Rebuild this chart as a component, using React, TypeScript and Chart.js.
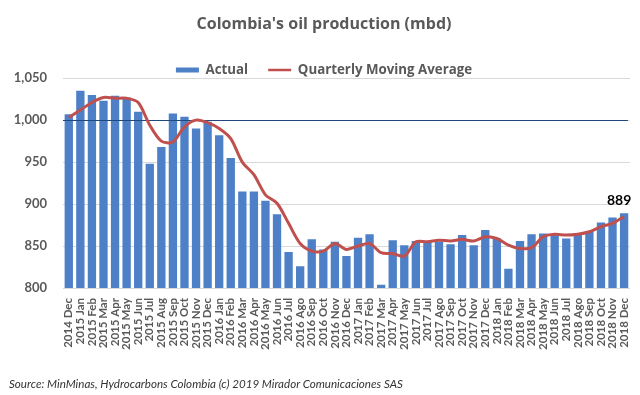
import React, { useEffect, useRef } from 'react';
import { Chart, registerables } from 'chart.js';

Chart.register(...registerables);

const months = [
  '2014 Dec',
  '2015 Jan', '2015 Feb', '2015 Mar', '2015 Apr', '2015 May', '2015 Jun', '2015 Jul', '2015 Aug', '2015 Sep', '2015 Oct', '2015 Nov', '2015 Dec',
  '2016 Jan', '2016 Feb', '2016 Mar', '2016 Apr', '2016 May', '2016 Jun', '2016 Jul', '2016 Ago', '2016 Sep', '2016 Oct', '2016 Nov', '2016 Dec',
  '2017 Jan', '2017 Feb', '2017 Mar', '2017 Apr', '2017 May', '2017 Jun', '2017 Jul', '2017 Ago', '2017 Sep', '2017 Oct', '2017 Nov', '2017 Dec',
  '2018 Jan', '2018 Feb', '2018 Mar', '2018 Apr', '2018 May', '2018 Jun', '2018 Jul', '2018 Ago', '2018 Sep', '2018 Oct', '2018 Nov', '2018 Dec',
];

const actual = [
  1007,
  1035, 1030, 1023, 1029, 1027, 1010, 948, 968, 1008, 1004, 990, 998,
  982, 955, 915, 915, 904, 888, 843, 826, 858, 846, 855, 838,
  860, 864, 804, 857, 851, 856, 855, 855, 852, 863, 851, 869,
  859, 823, 856, 864, 865, 864, 859, 865, 867, 878, 884, 889,
];

const movingAverage = [
  1003,
  1012, 1021, 1027, 1026, 1026, 1021, 994, 975, 974, 992, 1000, 997,
  990, 978, 950, 935, 911, 901, 877, 853, 844, 844, 853, 846,
  850, 853, 842, 841, 838, 855, 855, 857, 856, 858, 856, 861,
  859, 851, 847, 848, 861, 864, 863, 864, 867, 873, 877, 885,
];

const yMin = 800;
const yMax = 1050;
const yStep = 50;
const referenceLevel = 1000;

const titleText = "Colombia's oil production (mbd)";
const sourceText = 'Source: MinMinas, Hydrocarbons Colombia (c) 2019 Mirador Comunicaciones SAS';

const FONT = 'Lato, "Open Sans", sans-serif';
const WIDE_FONT = '"Open Sans", Lato, sans-serif';
const BAR_COLOR = '#4E80C8';
const LINE_COLOR = '#C0504D';
const TEXT_COLOR = '#595959';

const LEGEND_PAD = 20;
const LEGEND_FONT = 13.3;

const layoutTweaksPlugin = {
  id: 'layoutTweaks',
  beforeLayout(chart: any) {
    const lg = chart.legend;
    if (lg && !lg.__patched) {
      const orig = lg.fit.bind(lg);
      lg.fit = function () {
        orig();
        if (this.height > 0) this.height = LEGEND_PAD + LEGEND_FONT + 1.5;
      };
      lg.__patched = true;
    }
  },
  afterLayout(chart: any) {
    const y = chart.scales.y;
    if (y) y.left = 0;
  },
};

const referenceLinePlugin = {
  id: 'referenceLine',
  afterDatasetDraw(chart: any, args: any) {
    if (args.index !== 1) return;
    const { ctx, chartArea } = chart;
    const y = Math.round(chart.scales.y.getPixelForValue(referenceLevel)) + 0.5;
    ctx.save();
    ctx.strokeStyle = '#1F497D';
    ctx.lineWidth = 1.2;
    ctx.beginPath();
    ctx.moveTo(chartArea.left, y);
    ctx.lineTo(chartArea.right - 2, y);
    ctx.stroke();
    ctx.restore();
  },
};

const lastValueLabelPlugin = {
  id: 'lastValueLabel',
  afterDatasetsDraw(chart: any) {
    const meta = chart.getDatasetMeta(1);
    const last = meta.data.length - 1;
    const el = meta.data[last];
    if (!el) return;
    const value = chart.data.datasets[1].data[last];
    const { ctx } = chart;
    ctx.save();
    ctx.font = `bold 14px ${FONT}`;
    ctx.fillStyle = '#000000';
    ctx.textAlign = 'center';
    ctx.textBaseline = 'alphabetic';
    ctx.fillText(String(value), el.x - 5, el.y - 8);
    ctx.restore();
  },
};

export default function App() {
  const canvasRef = useRef<HTMLCanvasElement | null>(null);

  useEffect(() => {
    document.body.style.margin = '0';
    const canvas = canvasRef.current;
    if (!canvas) return;
    const chart = new Chart(canvas, {
      type: 'bar',
      data: {
        labels: months,
        datasets: [
          {
            type: 'line',
            label: 'Quarterly Moving Average',
            data: movingAverage,
            borderColor: LINE_COLOR,
            backgroundColor: LINE_COLOR,
            borderWidth: 3,
            pointRadius: 0,
            tension: 0.3,
            order: 0,
          } as any,
          {
            type: 'bar',
            label: 'Actual',
            data: actual,
            backgroundColor: BAR_COLOR,
            borderWidth: 0,
            categoryPercentage: 1,
            barPercentage: 0.72,
            order: 1,
          },
        ],
      },
      options: {
        responsive: false,
        animation: false,
        layout: { padding: { left: 18, right: 10, top: 0, bottom: 27 } },
        plugins: {
          tooltip: { enabled: false },
          title: {
            display: true,
            text: titleText,
            color: TEXT_COLOR,
            font: { family: WIDE_FONT, size: 16, weight: 'bold', lineHeight: 1.2 },
            padding: { top: 15, bottom: 9.15 },
          },
          legend: {
            display: true,
            position: 'top',
            labels: {
              color: TEXT_COLOR,
              font: { family: WIDE_FONT, size: LEGEND_FONT, weight: 'bold', lineHeight: 1 },
              usePointStyle: true,
              pointStyleWidth: 23,
              boxHeight: 5,
              padding: LEGEND_PAD,
              sort: (a: any, b: any) => b.datasetIndex - a.datasetIndex,
              generateLabels: (chart: any) => {
                const items = Chart.defaults.plugins.legend.labels.generateLabels(chart);
                items.forEach((it: any) => {
                  if (it.datasetIndex === 1) {
                    it.pointStyle = 'rect';
                    it.fillStyle = BAR_COLOR;
                    it.strokeStyle = BAR_COLOR;
                    it.lineWidth = 0;
                  } else {
                    it.pointStyle = 'line';
                    it.fillStyle = LINE_COLOR;
                    it.strokeStyle = LINE_COLOR;
                    it.lineWidth = 2.5;
                  }
                });
                return items;
              },
            },
          },
        },
        scales: {
          x: {
            grid: { display: false },
            border: { display: false },
            ticks: {
              autoSkip: false,
              minRotation: 90,
              maxRotation: 90,
              padding: 2,
              color: TEXT_COLOR,
              font: { family: FONT, size: 11.5, weight: 'bold' },
            },
            afterFit: (scale: any) => {
              scale.height = 80;
            },
          },
          y: {
            min: yMin,
            max: yMax,
            border: { display: false },
            grid: { color: '#D9D9D9', drawTicks: false, lineWidth: 1 },
            ticks: {
              stepSize: yStep,
              padding: 16,
              color: TEXT_COLOR,
              font: { family: FONT, size: 13, weight: 'bold' },
              callback: (v: any) => Number(v).toLocaleString('en-US'),
            },
            afterFit: (scale: any) => {
              scale.width = 45;
            },
          },
        },
      },
      plugins: [layoutTweaksPlugin, referenceLinePlugin, lastValueLabelPlugin],
    });
    return () => chart.destroy();
  }, []);

  return (
    <div style={{ position: 'fixed', left: 0, top: 0, width: 640, height: 395, background: '#ffffff' }}>
      <canvas ref={canvasRef} width={640} height={395} style={{ position: 'absolute', left: 0, top: 0 }} />
      <div
        style={{
          position: 'absolute',
          left: 9,
          top: 377,
          fontFamily: FONT,
          fontStyle: 'italic',
          fontSize: 11.6,
          color: '#333333',
          whiteSpace: 'nowrap',
        }}
      >
        {sourceText}
      </div>
    </div>
  );
}
